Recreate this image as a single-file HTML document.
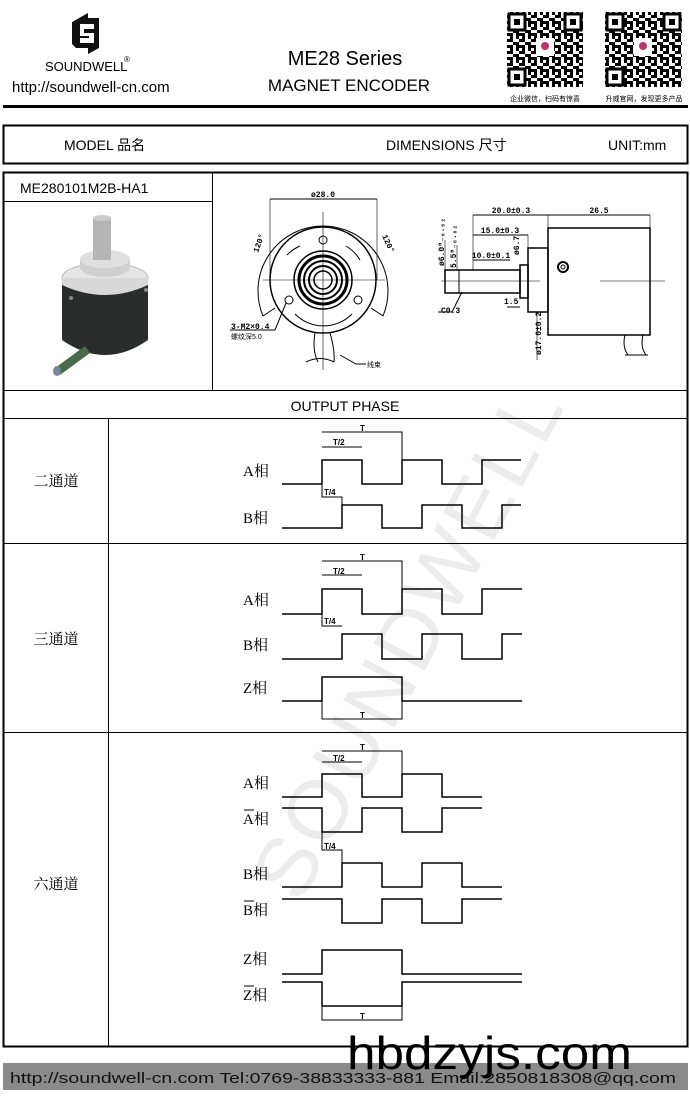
<!DOCTYPE html>
<html><head><meta charset="utf-8"><style>
html,body{margin:0;padding:0;background:#fff}
svg{display:block}
text{font-family:"Liberation Sans","Noto Sans CJK SC",sans-serif}
.s{font-family:"Liberation Serif","Noto Serif CJK SC",serif;font-size:15px}
.m{font-family:"Liberation Mono",monospace;font-size:8px;font-weight:bold}
</style></head><body>
<svg width="690" height="1100" viewBox="0 0 690 1100" xmlns="http://www.w3.org/2000/svg">
<defs>
<pattern id="qr" width="12" height="12" patternUnits="userSpaceOnUse">
<rect x="0" y="0" width="3" height="3"/><rect x="6" y="0" width="3" height="6"/><rect x="3" y="3" width="3" height="3"/><rect x="9" y="6" width="3" height="3"/><rect x="0" y="6" width="3" height="6"/><rect x="6" y="9" width="3" height="3"/><rect x="3" y="9" width="3" height="3"/>
</pattern>
</defs>
<!-- watermark -->
<text x="0" y="0" transform="translate(300,905) rotate(-62)" font-size="84" fill="#ececec" letter-spacing="4">SOUNDWELL</text>

<!-- logo -->
<path d="M72 22 L88 13 L88 18 L99 18 L99 48 L88 54 L88 48 L76 48 L72 44 Z" fill="#111"/>
<path d="M80 24 L94 24 L94 29 L84 29 L84 33 L94 33 L94 43 L80 43 L80 38 L89 38 L89 36 L80 36 Z" fill="#fff"/>
<text x="45" y="71" font-size="13">SOUNDWELL</text><text x="124" y="62" font-size="8">®</text>
<text x="12" y="92" font-size="15">http://soundwell-cn.com</text>
<text x="345" y="65" font-size="20" text-anchor="middle">ME28 Series</text>
<text x="349" y="91" font-size="17" text-anchor="middle">MAGNET ENCODER</text>
<!-- QR -->
<g>
<rect x="507" y="12" width="76" height="75" fill="url(#qr)"/>
<rect x="605" y="12" width="77" height="75" fill="url(#qr)"/>
<g fill="#fff" stroke="#000" stroke-width="3">
<rect x="509" y="14" width="16" height="16"/><rect x="565" y="14" width="16" height="16"/><rect x="509" y="69" width="16" height="16"/>
<rect x="607" y="14" width="16" height="16"/><rect x="664" y="14" width="16" height="16"/><rect x="607" y="69" width="16" height="16"/>
</g>
<rect x="514" y="19" width="6" height="6"/><rect x="570" y="19" width="6" height="6"/><rect x="514" y="74" width="6" height="6"/>
<rect x="612" y="19" width="6" height="6"/><rect x="669" y="19" width="6" height="6"/><rect x="612" y="74" width="6" height="6"/>
<rect x="536" y="38" width="18" height="18" fill="#fff"/><rect x="634" y="38" width="18" height="18" fill="#fff"/>
<circle cx="545" cy="46" r="4" fill="#c0306a"/><circle cx="643" cy="46" r="4" fill="#c0306a"/>
<text x="545" y="101" font-size="7" text-anchor="middle">企业微信，扫码有惊喜</text>
<text x="644" y="101" font-size="7" text-anchor="middle">升威官网，发现更多产品</text>
</g>
<rect x="3" y="105" width="685" height="3"/>

<!-- model bar -->
<rect x="3.5" y="125.5" width="684" height="38" fill="none" stroke="#000" stroke-width="2"/>
<text x="64" y="150" font-size="14">MODEL 品名</text>
<text x="386" y="150" font-size="14">DIMENSIONS 尺寸</text>
<text x="608" y="150" font-size="14">UNIT:mm</text>

<!-- main table -->
<g fill="none" stroke="#000">
<rect x="3.5" y="172.5" width="684" height="874" stroke-width="2"/>
<line x1="212.5" y1="172" x2="212.5" y2="390"/>
<line x1="3" y1="201.5" x2="212" y2="201.5"/>
<line x1="3" y1="390.5" x2="688" y2="390.5"/>
<line x1="3" y1="418.5" x2="688" y2="418.5"/>
<line x1="3" y1="543.5" x2="688" y2="543.5"/>
<line x1="3" y1="732.5" x2="688" y2="732.5"/>
<line x1="108.5" y1="418" x2="108.5" y2="1046"/>
</g>
<text x="20" y="193" font-size="14">ME280101M2B-HA1</text>
<text x="345" y="411" font-family="Liberation Mono,monospace" font-size="14" text-anchor="middle">OUTPUT PHASE</text>
<text x="56" y="486" class="s" text-anchor="middle">二通道</text>
<text x="56" y="644" class="s" text-anchor="middle">三通道</text>
<text x="56" y="889" class="s" text-anchor="middle">六通道</text>

<!-- product image -->
<g>
<path d="M62 278 L62 340 Q105 370 148 340 L148 278 Z" fill="#2a2d2c"/>
<path d="M55 368 L85 346 L90 353 L60 375 Z" fill="#4a6a4e"/>
<ellipse cx="57" cy="371" rx="4" ry="5" fill="#789"/>
<ellipse cx="105" cy="278" rx="43" ry="15" fill="#e6e6e6" stroke="#bbb"/>
<path d="M62 278 L62 285 Q105 305 148 285 L148 278 Z" fill="#d8d8d8"/>
<ellipse cx="105" cy="267" rx="25" ry="10" fill="#d0d0d0"/>
<rect x="80" y="258" width="50" height="10" fill="#d0d0d0"/>
<ellipse cx="105" cy="259" rx="25" ry="9" fill="#e0e0e0"/>
<rect x="93" y="218" width="18" height="42" fill="#b5b5b5"/>
<ellipse cx="102" cy="218" rx="9" ry="3" fill="#ccc"/>
<circle cx="71" cy="298" r="2" fill="#888"/><circle cx="146" cy="290" r="2" fill="#888"/>
</g>

<!-- front view -->
<g fill="none" stroke="#000" stroke-width="1">
<path d="M263 316 A65 65 0 1 1 383 316"/>
<line x1="263" y1="316" x2="275" y2="308"/><line x1="383" y1="316" x2="371" y2="308"/>
<circle cx="323" cy="280" r="53" stroke-width="1.5"/>
<circle cx="323" cy="280" r="29" stroke-width="1.5"/>
<circle cx="323" cy="280" r="24" stroke-width="3"/>
<circle cx="323" cy="280" r="19" stroke-width="2"/>
<circle cx="323" cy="280" r="14" stroke-width="2"/>
<circle cx="323" cy="280" r="9" stroke-width="1.5"/>
<circle cx="323" cy="240" r="4"/><circle cx="289" cy="300" r="4"/><circle cx="358" cy="300" r="4"/>
<path d="M287 255 A40 40 0 0 1 300 246" /><path d="M346 246 A40 40 0 0 1 360 260"/>
<path d="M295 314 A40 40 0 0 0 352 314"/>
<line x1="263" y1="280" x2="385" y2="280" stroke-width="0.6"/>
<line x1="323" y1="212" x2="323" y2="370" stroke-width="0.6"/>
<line x1="270" y1="199" x2="377" y2="199"/>
<line x1="270" y1="199" x2="270" y2="280" stroke-width="0.6"/><line x1="377" y1="199" x2="377" y2="280" stroke-width="0.6"/>
<path d="M315 333 Q312 350 318 362 M330 333 Q335 350 334 362 M306 362 Q320 355 334 362"/>
<path d="M340 355 L356 364 L366 364"/>
<path d="M286 303 L275 330 L230 330"/>
</g>
<text x="323" y="197" class="m" text-anchor="middle">ø28.0</text>
<text x="0" y="0" transform="translate(258,253) rotate(-70)" class="m">120°</text>
<text x="0" y="0" transform="translate(382,236) rotate(65)" class="m">120°</text>
<text x="231" y="329" class="m">3-M2×0.4</text>
<text x="231" y="339" font-size="7">螺纹深5.0</text>
<text x="367" y="367" font-size="7">线束</text>

<!-- side view -->
<g fill="none" stroke="#000">
<rect x="445" y="270" width="75" height="23" stroke-width="1.5"/>
<line x1="459" y1="270" x2="459" y2="293"/>
<rect x="520" y="265" width="8" height="33" stroke-width="1.5"/>
<rect x="528" y="248" width="20" height="64" stroke-width="1.5"/>
<rect x="548" y="228" width="102" height="107" stroke-width="1.5"/>
<line x1="441" y1="281" x2="540" y2="281" stroke-width="0.6"/>
<line x1="600" y1="281" x2="665" y2="281" stroke-width="0.6"/>
<line x1="473" y1="215" x2="548" y2="215"/><line x1="548" y1="215" x2="650" y2="215"/>
<line x1="473" y1="215" x2="473" y2="270" stroke-width="0.6"/><line x1="548" y1="215" x2="548" y2="228" stroke-width="0.6"/><line x1="650" y1="215" x2="650" y2="228" stroke-width="0.6"/>
<line x1="473" y1="235" x2="528" y2="235"/><line x1="528" y1="235" x2="528" y2="248" stroke-width="0.6"/>
<line x1="473" y1="260" x2="510" y2="260"/>
<line x1="445" y1="270" x2="445" y2="240" stroke-width="0.6"/>
<line x1="457" y1="270" x2="457" y2="245" stroke-width="0.6"/>
<line x1="507" y1="307" x2="520" y2="307"/>
<line x1="537" y1="312" x2="537" y2="360" stroke-width="0.6"/>
<path d="M462 292 L452 312 L438 312"/>
<circle cx="563" cy="267" r="5" stroke-width="2"/><circle cx="563" cy="267" r="2"/>
<path d="M625 335 Q622 347 628 355 M643 335 Q640 347 646 355 M625 355 L648 355"/>
</g>
<text x="511" y="213" class="m" text-anchor="middle">20.0±0.3</text>
<text x="599" y="213" class="m" text-anchor="middle">26.5</text>
<text x="500" y="233" class="m" text-anchor="middle">15.0±0.3</text>
<text x="491" y="258" class="m" text-anchor="middle">10.0±0.1</text>
<text x="504" y="304" class="m">1.5</text>
<text x="441" y="313" class="m">C0.3</text>
<text x="0" y="0" transform="translate(444,266) rotate(-90)" class="m">ø6.0⁰₋₀.₀₂</text>
<text x="0" y="0" transform="translate(456,268) rotate(-90)" class="m">5.5⁰₋₀.₀₂</text>
<text x="0" y="0" transform="translate(519,255) rotate(-90)" class="m">ø6.7</text>
<text x="0" y="0" transform="translate(541,355) rotate(-90)" class="m">ø17.0±0.2</text>

<!-- waveforms -->
<g fill="none" stroke="#000" stroke-width="1.5">
<path d="M282 484 H322 V460 H362 V484 H402 V460 H442 V484 H482 V460 H521"/>
<path d="M282 528 H342 V505 H382 V528 H422 V505 H462 V528 H502 V505 H521"/>
<path d="M322 432 H402 V460 M322 447 H362" stroke-width="1"/>
<path d="M322 484 V497 H342 V505" stroke-width="1"/>
<path d="M282 614 H322 V589 H362 V614 H402 V589 H442 V614 H482 V589 H522"/>
<path d="M282 659 H342 V634 H382 V659 H422 V634 H462 V659 H502 V634 H522"/>
<path d="M282 701 H322 V677 H402 V701 H522"/>
<path d="M322 561 H402 V589 M322 575 H362" stroke-width="1"/>
<path d="M322 614 V626 H342" stroke-width="1"/>
<path d="M322 701 V719 H402 V701" stroke-width="1"/>
<path d="M282 797 H322 V774 H362 V797 H402 V774 H442 V797 H482"/>
<path d="M282 808 H322 V832 H362 V808 H402 V832 H442 V808 H482"/>
<path d="M282 887 H342 V863 H382 V887 H422 V863 H462 V887 H502"/>
<path d="M282 899 H342 V923 H382 V899 H422 V923 H462 V899 H502"/>
<path d="M282 974 H322 V950 H402 V974 H522"/>
<path d="M282 982 H322 V1006 H402 V982 H522"/>
<path d="M322 751 H402 V774 M322 762 H362" stroke-width="1"/>
<path d="M322 832 V850 H342 V863" stroke-width="1"/>
<path d="M322 1006 V1020 H402 V1006 M322 1006 H402" stroke-width="1"/>
</g>
<g font-family="Liberation Mono,monospace" font-size="8" font-weight="bold">
<text x="360" y="431">T</text><text x="333" y="445">T/2</text><text x="324" y="495">T/4</text>
<text x="360" y="560">T</text><text x="333" y="574">T/2</text><text x="324" y="624">T/4</text><text x="360" y="718">T</text>
<text x="360" y="750">T</text><text x="333" y="761">T/2</text><text x="324" y="849">T/4</text><text x="360" y="1019">T</text>
</g>
<g class="s">
<text x="243" y="476" class="s">A相</text><text x="243" y="523" class="s">B相</text>
<text x="243" y="605" class="s">A相</text><text x="243" y="650" class="s">B相</text><text x="243" y="693" class="s">Z相</text>
<text x="243" y="788" class="s">A相</text><text x="243" y="824" class="s">A相</text>
<text x="243" y="879" class="s">B相</text><text x="243" y="915" class="s">B相</text>
<text x="243" y="964" class="s">Z相</text><text x="243" y="1000" class="s">Z相</text>
</g>
<g stroke="#000" stroke-width="1"><line x1="244" y1="810" x2="254" y2="810"/><line x1="244" y1="901" x2="254" y2="901"/><line x1="244" y1="986" x2="254" y2="986"/></g>

<!-- footer -->
<rect x="3" y="1063" width="685" height="27" fill="#8a8a8a"/>
<text x="10" y="1083" font-family="DejaVu Sans,sans-serif" font-size="15" fill="#111" textLength="666" lengthAdjust="spacingAndGlyphs">http://soundwell-cn.com  Tel:0769-38833333-881  Email:2850818308@qq.com</text>
<text x="347" y="1069" font-size="46" fill="#000" textLength="285" lengthAdjust="spacingAndGlyphs">hbdzyjs.com</text>
</svg>
</body></html>
